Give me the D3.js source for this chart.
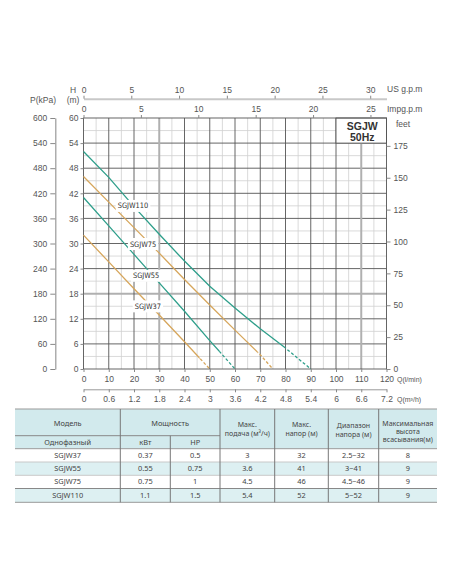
<!DOCTYPE html>
<html>
<head>
<meta charset="utf-8">
<script src="https://cdn.jsdelivr.net/npm/d3@7.9.0/dist/d3.min.js"></script>
<style>
  body { margin: 0; background: #fff; }
  svg { display: block; font-family: "Liberation Sans", Arial, sans-serif; }
  .tick text { fill: #555; }
  .tick line { stroke: #888; }
</style>
</head>
<body>
<svg id="chart" width="452" height="584"></svg>
<script>
// ---- data ----
const models = ['SGJW37', 'SGJW55', 'SGJW75', 'SGJW110'];

// Q in l/min, H in m
const q37 = [0, 10, 20, 30, 40, 50];
const h37 = [32, 25.6, 19.2, 12.9, 6.5, 0];
const q55 = [0, 10, 20, 30, 40, 50, 60];
const h55 = [41, 34.2, 27.4, 20.6, 13.8, 6.8, 0];
const q75 = [0, 10, 20, 30, 40, 50, 60, 70, 75];
const h75 = [46, 39.9, 33.8, 27.7, 21.4, 15.3, 9.3, 3.4, 0];
const q110 = [0, 10, 20, 30, 40, 50, 60, 70, 80, 90];
const h110 = [52, 45.8, 38.8, 32.2, 25.8, 19.8, 14.6, 9.6, 5, 0];
const dashFrom = [46, 54, 69, 80]; // where each curve turns dashed (l/min)

const qTicks = d3.range(0, 121, 10);
const hTicks = d3.range(0, 61, 6);
const pTicks = d3.range(0, 601, 60);
const feetTicks = d3.range(0, 176, 25);
const usTicks = d3.range(0, 31, 5);
const impTicks = d3.range(0, 26, 5);
const m3Ticks = [0, 0.6, 1.2, 1.8, 2.4, 3, 3.6, 4.2, 4.8, 5.4, 6, 6.6, 7.2];

// table
const kw = ['0.37', '0.55', '0.75', '1.1'];
const hp = ['0.5', '0.75', '1', '1.5'];
const maxFlow = ['3', '3.6', '4.5', '5.4'];
const maxHead = ['32', '41', '46', '52'];
const headRange = ['2.5~32', '3~41', '4.5~46', '5~52'];
const suction = ['8', '9', '9', '9'];

// ---- layout ----
const svg = d3.select('#chart');
const x0 = 83.5, x1 = 386.5, yTop = 118, yBot = 369;
const x = d3.scaleLinear().domain([0, 120]).range([x0, x1]);
const y = d3.scaleLinear().domain([0, 60]).range([yBot, yTop]);
const p = d3.scaleLinear().domain([0, 600]).range([yBot, yTop]);
const ft = d3.scaleLinear().domain([0, 60 / 0.3048]).range([yBot, yTop]);
const us = d3.scaleLinear().domain([0, 120 / 3.785]).range([x0, x1]);
const imp = d3.scaleLinear().domain([0, 120 / 4.546]).range([x0, x1]);
const m3 = d3.scaleLinear().domain([0, 7.2]).range([x0, x1]);

const series = [
  { name: models[0], q: q37, h: h37, color: '#d6a65c', lq: 25.5, lh: 15 },
  { name: models[1], q: q55, h: h55, color: '#2f9f8b', lq: 24.8, lh: 22.3 },
  { name: models[2], q: q75, h: h75, color: '#d6a65c', lq: 23.6, lh: 29.9 },
  { name: models[3], q: q110, h: h110, color: '#2f9f8b', lq: 19.6, lh: 39 }
];

// grid
const grid = svg.append('g');
const thick = [30, 110];
grid.selectAll('.vmin').data(d3.range(5, 120, 10)).join('line')
  .attr('x1', d => x(d)).attr('x2', d => x(d)).attr('y1', yTop).attr('y2', yBot)
  .attr('stroke', '#d0d0d0').attr('stroke-width', 0.8);
grid.selectAll('.hmin').data(d3.range(3, 60, 6)).join('line')
  .attr('y1', d => y(d)).attr('y2', d => y(d)).attr('x1', x0).attr('x2', x1)
  .attr('stroke', '#d0d0d0').attr('stroke-width', 0.8);
grid.selectAll('.hmaj').data(hTicks.slice(1, -1)).join('line')
  .attr('y1', d => y(d)).attr('y2', d => y(d)).attr('x1', x0).attr('x2', x1)
  .attr('stroke', d => d === 18 ? '#b0b0b0' : '#555')
  .attr('stroke-width', d => d === 18 ? 2 : 0.9);
grid.selectAll('.vmaj').data(qTicks.slice(1, -1)).join('line')
  .attr('x1', d => x(d)).attr('x2', d => x(d)).attr('y1', yTop).attr('y2', yBot)
  .attr('stroke', d => thick.includes(d) ? '#b0b0b0' : '#555')
  .attr('stroke-width', d => thick.includes(d) ? 2 : 0.9);

// SGJW 50Hz box
svg.append('rect')
  .attr('x', x(100)).attr('y', y(60)).attr('width', x(120) - x(100)).attr('height', y(54) - y(60))
  .attr('fill', '#fff').attr('stroke', '#555').attr('stroke-width', 0.9);
svg.append('text').attr('x', (x(100) + x(120)) / 2 + 1).attr('y', 130)
  .attr('text-anchor', 'middle').attr('font-weight', 'bold').attr('font-size', 10.5)
  .attr('fill', '#333').text('SGJW');
svg.append('text').attr('x', (x(100) + x(120)) / 2 + 1).attr('y', 141)
  .attr('text-anchor', 'middle').attr('font-weight', 'bold').attr('font-size', 10.5)
  .attr('fill', '#333').text('50Hz');

// plot frame
svg.append('rect').attr('x', x0).attr('y', yTop).attr('width', x1 - x0).attr('height', yBot - yTop)
  .attr('fill', 'none').attr('stroke', '#555').attr('stroke-width', 0.9);

// curves: solid part, then dashed tail, split with clip rects
const defs = svg.append('defs');
const line = d3.line().x(d => x(d[0])).y(d => y(d[1]));
series.forEach((s, i) => {
  const pts = s.q.map((q, k) => [q, s.h[k]]);
  defs.append('clipPath').attr('id', 'solid' + i).append('rect')
    .attr('x', 0).attr('y', 0).attr('width', x(dashFrom[i])).attr('height', 584);
  defs.append('clipPath').attr('id', 'dash' + i).append('rect')
    .attr('x', x(dashFrom[i])).attr('y', 0).attr('width', 452).attr('height', 584);
  svg.append('path').attr('d', line(pts)).attr('fill', 'none')
    .attr('stroke', s.color).attr('stroke-width', 1.3).attr('clip-path', `url(#solid${i})`);
  svg.append('path').attr('d', line(pts)).attr('fill', 'none')
    .attr('stroke', s.color).attr('stroke-width', 1.3).attr('stroke-dasharray', '3,2')
    .attr('clip-path', `url(#dash${i})`);
});

// curve labels on white patches
series.forEach(s => {
  const g = svg.append('g');
  const t = g.append('text').attr('x', x(s.lq)).attr('y', y(s.lh)).attr('dy', '0.35em')
    .attr('text-anchor', 'middle').attr('font-size', 7.4).attr('fill', '#333')
    .attr('font-family', '"Liberation Sans Narrow", "DejaVu Sans Condensed", sans-serif')
    .text(s.name);
  const b = t.node().getBBox();
  g.insert('rect', 'text').attr('x', b.x - 2).attr('y', b.y - 1.5)
    .attr('width', b.width + 4).attr('height', b.height + 3).attr('fill', '#fff');
});

// axes
function styleAxis(g, size) {
  g.selectAll('text').attr('font-size', size);
}
svg.append('g').attr('transform', `translate(${x0},0)`)
  .call(d3.axisLeft(y).tickValues(hTicks).tickSize(3).tickPadding(2))
  .call(g => g.select('.domain').remove()).call(g => styleAxis(g, 8.5));

svg.append('g').attr('transform', 'translate(55.3,0)')
  .call(d3.axisLeft(p).tickValues(pTicks).tickSize(5).tickPadding(3).tickSizeOuter(0))
  .call(g => g.select('.domain').attr('stroke', '#999').attr('stroke-width', 1.2))
  .call(g => styleAxis(g, 8.5));

svg.append('g').attr('transform', `translate(${x1},0)`)
  .call(d3.axisRight(ft).tickValues(feetTicks).tickSize(4).tickPadding(3))
  .call(g => g.select('.domain').remove()).call(g => styleAxis(g, 8.5));

svg.append('g').attr('transform', `translate(0,${yBot})`)
  .call(d3.axisBottom(x).tickValues(qTicks).tickSize(3).tickPadding(4))
  .call(g => g.select('.domain').remove()).call(g => styleAxis(g, 8.5));

svg.append('g').attr('transform', 'translate(0,389.3)')
  .call(d3.axisBottom(m3).tickValues(m3Ticks).tickSize(3).tickPadding(4).tickSizeOuter(0)
    .tickFormat(d3.format('~g')))
  .call(g => g.select('.domain').attr('stroke', '#999'))
  .call(g => styleAxis(g, 8.5));

svg.append('g').attr('transform', 'translate(0,98.7)')
  .call(d3.axisTop(us).tickValues(usTicks).tickSize(3).tickPadding(3).tickSizeOuter(0))
  .call(g => g.select('.domain').attr('stroke', '#c8c8c8').attr('stroke-width', 2))
  .call(g => styleAxis(g, 8.5));

svg.append('g').attr('transform', `translate(0,${yTop})`)
  .call(d3.axisTop(imp).tickValues(impTicks).tickSize(3).tickPadding(3))
  .call(g => g.select('.domain').remove()).call(g => styleAxis(g, 8.5));

// axis titles
const title = (tx, ty, s, size, anchor) => svg.append('text')
  .attr('x', tx).attr('y', ty).attr('dy', '0.35em').attr('font-size', size)
  .attr('fill', '#555').attr('text-anchor', anchor || 'start').text(s);
title(43, 100.5, 'P(kPa)', 8.5, 'middle');
title(73, 90.5, 'H', 8.5, 'middle');
title(73, 100.5, '(m)', 8.5, 'middle');
title(387, 89.3, 'US g.p.m', 8.5);
title(387, 108.7, 'Impg.p.m', 8.5);
title(396, 124, 'feet', 8.5);
title(397, 380, 'Q(l/min)', 7);
title(397, 400, 'Q(m³/h)', 7);

// ---- table ----
const colX = [15, 120.3, 170.3, 220, 274.7, 328.3, 378.7, 437];
const rowY = [409, 435.7, 448.7, 462, 475.3, 488.5, 502.3];
const tbl = svg.append('g').attr('font-family', '"Noto Sans", "Open Sans", sans-serif')
  .attr('fill', '#444');
const headBg = '#d2eaed', rowBg = '#ddf0f2';

tbl.append('rect').attr('x', colX[0]).attr('y', rowY[0]).attr('width', colX[7] - colX[0])
  .attr('height', rowY[2] - rowY[0]).attr('fill', headBg);
models.forEach((m, i) => {
  tbl.append('rect').attr('x', colX[0]).attr('y', rowY[i + 2]).attr('width', colX[7] - colX[0])
    .attr('height', rowY[i + 3] - rowY[i + 2]).attr('fill', i % 2 ? rowBg : '#fff');
});

const hline = (xa, xb, yy, c) => tbl.append('line').attr('x1', xa).attr('x2', xb)
  .attr('y1', yy).attr('y2', yy).attr('stroke', c).attr('stroke-width', 1);
const vline = (xx, ya, yb) => tbl.append('line').attr('x1', xx).attr('x2', xx)
  .attr('y1', ya).attr('y2', yb).attr('stroke', '#777').attr('stroke-width', 1);
hline(colX[0], colX[7], rowY[0], '#999');
hline(colX[0], colX[3], rowY[1], '#888');
hline(colX[0], colX[7], rowY[2], '#999');
hline(colX[0], colX[7], rowY[3], '#c8c8c8');
hline(colX[0], colX[7], rowY[4], '#c8c8c8');
hline(colX[0], colX[7], rowY[5], '#888');
hline(colX[0], colX[7], rowY[6], '#999');
[1, 3, 4, 5, 6].forEach(c => vline(colX[c], rowY[0], rowY[6]));
vline(colX[2], rowY[1], rowY[6]);

const cell = (cx, cy, s, size) => tbl.append('text').attr('x', cx).attr('y', cy)
  .attr('dy', '0.35em').attr('text-anchor', 'middle').attr('font-size', size || 7.4).text(s);
const mid = c => (colX[c] + colX[c + 1]) / 2;
cell(mid(0), 423, 'Модель');
cell((colX[1] + colX[3]) / 2, 423, 'Мощность');
cell(mid(0), 442.3, 'Однофазный');
cell(mid(1), 442.3, 'кВт');
cell(mid(2), 442.3, 'HP');
cell(mid(3), 425, 'Макс.', 7);
cell(mid(3), 434, 'подача (м³/ч)', 7);
cell(mid(4), 425, 'Макс.', 7);
cell(mid(4), 434, 'напор (м)', 7);
cell(mid(5), 425.5, 'Диапазон', 7);
cell(mid(5), 434.3, 'напора (м)', 7);
cell(mid(6), 423.3, 'Максимальная', 7);
cell(mid(6), 431.7, 'высота', 7);
cell(mid(6), 440, 'всасывания(м)', 7);

const cols = [models, kw, hp, maxFlow, maxHead, headRange, suction];
cols.forEach((vals, c) => {
  vals.forEach((v, r) => cell(mid(c), (rowY[r + 2] + rowY[r + 3]) / 2, v));
});
</script>
</body>
</html>
